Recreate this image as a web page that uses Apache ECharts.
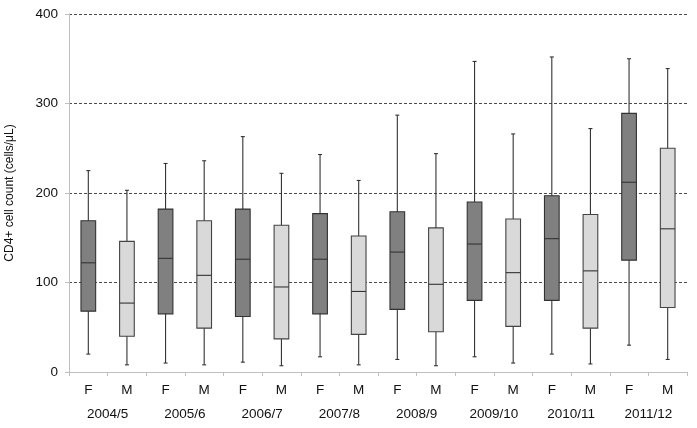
<!DOCTYPE html>
<html>
<head>
<meta charset="utf-8">
<script src="https://cdn.jsdelivr.net/npm/echarts@6/dist/echarts.min.js"></script>
<style>
  html, body { margin: 0; padding: 0; background: #fff; }
  #chart { width: 697px; height: 428px; }
</style>
</head>
<body>
<div id="chart"></div>
<script>
// 年度分组与性别
const years = ["2004/5", "2005/6", "2006/7", "2007/8", "2008/9", "2009/10", "2010/11", "2011/12"];
const sexes = ["F", "M", "F", "M", "F", "M", "F", "M", "F", "M", "F", "M", "F", "M", "F", "M"];
// 箱线图数值
const whiskerLow = [20, 8, 10, 8, 11, 7, 17, 8, 14, 7, 17, 10, 20, 9, 30, 14];
const q1 = [68, 40, 65, 49, 62, 37, 65, 42, 70, 45, 80, 51, 80, 49, 125, 72];
const median = [122, 77, 127, 108, 126, 95, 126, 90, 134, 98, 143, 111, 149, 113, 212, 160];
const q3 = [169, 146, 182, 169, 182, 164, 177, 152, 179, 161, 190, 171, 197, 176, 289, 250];
const whiskerHigh = [225, 203, 233, 236, 263, 222, 243, 214, 287, 244, 347, 266, 352, 272, 350, 339];
const yTicks = [0, 100, 200, 300, 400];

const chart = echarts.init(document.getElementById("chart"));

const boxData = sexes.map((s, i) => [i, whiskerLow[i], q1[i], median[i], q3[i], whiskerHigh[i]]);
const font = "Liberation Sans, Arial, sans-serif";

function renderBox(params, api) {
  const idx = api.value(0);
  const x = api.coord([idx, 0])[0];
  const w = api.size([1, 0])[0] * 0.38;
  const yLow = api.coord([idx, api.value(1)])[1];
  const yQ1 = api.coord([idx, api.value(2)])[1];
  const yMed = api.coord([idx, api.value(3)])[1];
  const yQ3 = api.coord([idx, api.value(4)])[1];
  const yHigh = api.coord([idx, api.value(5)])[1];
  const dark = idx % 2 === 0;
  const lineStyle = { stroke: "#333", lineWidth: 1.1 };
  return {
    type: "group",
    children: [
      { type: "line", shape: { x1: x, y1: yLow, x2: x, y2: yHigh }, style: lineStyle },
      { type: "line", shape: { x1: x - 2, y1: yLow, x2: x + 2, y2: yLow }, style: lineStyle },
      { type: "line", shape: { x1: x - 2, y1: yHigh, x2: x + 2, y2: yHigh }, style: lineStyle },
      {
        type: "rect",
        shape: { x: x - w / 2, y: yQ3, width: w, height: yQ1 - yQ3 },
        style: { fill: dark ? "#808080" : "#d9d9d9", stroke: dark ? "#333" : "#444", lineWidth: 1.1 }
      },
      { type: "line", shape: { x1: x - w / 2, y1: yMed, x2: x + w / 2, y2: yMed }, style: lineStyle }
    ]
  };
}

chart.setOption({
  animation: false,
  grid: { left: 69, right: 10, top: 14, bottom: 56, containLabel: false, outerBoundsMode: "none" },
  xAxis: [
    {
      type: "category",
      data: sexes,
      axisLine: { lineStyle: { color: "#bfbfbf", width: 1 } },
      axisTick: { show: true, length: 4, lineStyle: { color: "#bfbfbf" } },
      axisLabel: { color: "#111", fontSize: 13.5, fontFamily: font, margin: 11 }
    },
    {
      type: "category",
      data: years,
      position: "bottom",
      offset: 24,
      axisLine: { show: false },
      axisTick: { show: false },
      axisLabel: { color: "#111", fontSize: 13.5, fontFamily: font, margin: 11 }
    }
  ],
  yAxis: {
    type: "value",
    min: yTicks[0],
    max: yTicks[yTicks.length - 1],
    interval: 100,
    name: "CD4+ cell count (cells/μL)",
    nameLocation: "middle",
    nameGap: 53,
    nameTextStyle: { color: "#111", fontSize: 12, fontFamily: font },
    axisLine: { show: true, lineStyle: { color: "#bfbfbf", width: 1 } },
    axisTick: { show: true, length: 4, lineStyle: { color: "#bfbfbf" } },
    axisLabel: { color: "#111", fontSize: 13.5, fontFamily: font, margin: 11 },
    splitLine: { show: true, lineStyle: { color: "#4a4a4a", type: [3, 2], width: 1 } }
  },
  series: [
    {
      type: "custom",
      xAxisIndex: 0,
      renderItem: renderBox,
      encode: { x: 0, y: [1, 2, 3, 4, 5] },
      data: boxData
    }
  ]
});
</script>
</body>
</html>
